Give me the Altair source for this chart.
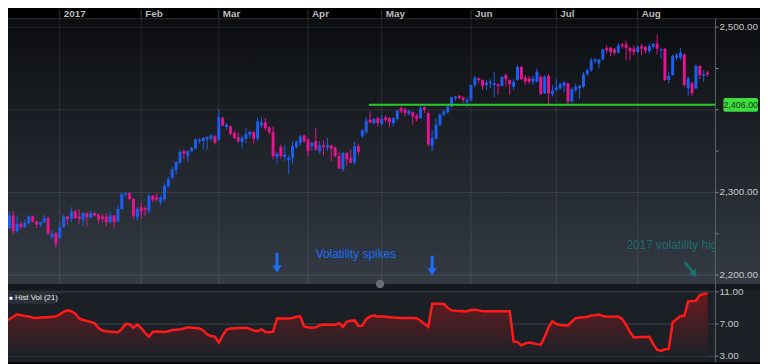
import altair as alt
import pandas as pd

# ---------------- data ----------------
opens = [2259, 2257, 2272, 2253, 2262, 2258, 2263, 2271, 2265, 2261, 2264, 2269, 2246, 2251,
         2245, 2258, 2271, 2268, 2277, 2271, 2267, 2275, 2270, 2275, 2273, 2271, 2271, 2264, 2272, 2265,
         2280, 2297, 2299, 2292, 2270,
         2282, 2281, 2278, 2296, 2294, 2288, 2292, 2307, 2318, 2327, 2336, 2350, 2344, 2350, 2353,
         2362, 2362, 2364, 2365, 2368,
         2364, 2390, 2379, 2380, 2372, 2367, 2361, 2365, 2370, 2373, 2365, 2381, 2385, 2379, 2373,
         2343, 2355, 2343, 2339, 2342, 2355, 2360, 2369,
         2364, 2356, 2362, 2350, 2357, 2354, 2357, 2354, 2344, 2328, 2348, 2342, 2336, 2356, 2368,
         2373, 2388, 2384, 2390,
         2383, 2391, 2390, 2384, 2389, 2402, 2400, 2395, 2397, 2393, 2390, 2403, 2396, 2356, 2365,
         2382, 2394, 2397, 2404, 2414, 2417, 2415, 2409,
         2412, 2430, 2438, 2436, 2430, 2432, 2430, 2431, 2429, 2442, 2436, 2428, 2436, 2452, 2439,
         2438, 2434, 2434, 2440, 2420, 2441, 2419,
         2424, 2426, 2429, 2432, 2410, 2424, 2426, 2428, 2443, 2448, 2459, 2456, 2461, 2475, 2475,
         2473, 2469, 2479, 2479, 2475, 2474,
         2470, 2477, 2476, 2471, 2476, 2480, 2472, 2474, 2436, 2442, 2463, 2463, 2467, 2426, 2432,
         2426, 2453, 2441, 2445]
highs = [2264, 2277, 2277, 2272, 2264, 2267, 2272, 2272, 2266, 2265, 2273, 2271, 2254, 2252,
         2264, 2273, 2272, 2282, 2279, 2280, 2276, 2276, 2278, 2276, 2274, 2274, 2275, 2277, 2273, 2284,
         2300, 2300, 2300, 2293, 2282,
         2289, 2283, 2298, 2297, 2299, 2296, 2311, 2319, 2331, 2338, 2352, 2352, 2351, 2355, 2366,
         2366, 2367, 2368, 2371, 2370,
         2400, 2392, 2384, 2381, 2375, 2373, 2369, 2378, 2375, 2374, 2390, 2391, 2390, 2380, 2380,
         2349, 2358, 2357, 2345, 2362, 2363, 2370, 2370,
         2366, 2361, 2378, 2362, 2363, 2366, 2358, 2356, 2349, 2349, 2349, 2352, 2361, 2359, 2377,
         2391, 2398, 2390, 2392,
         2394, 2393, 2391, 2391, 2400, 2404, 2403, 2400, 2398, 2395, 2405, 2406, 2398, 2375, 2390,
         2396, 2400, 2405, 2416, 2417, 2418, 2416, 2415,
         2431, 2441, 2439, 2437, 2436, 2437, 2446, 2432, 2441, 2444, 2437, 2437, 2454, 2453, 2442,
         2441, 2441, 2450, 2442, 2442, 2443, 2430,
         2437, 2433, 2435, 2433, 2427, 2432, 2430, 2446, 2450, 2463, 2463, 2462, 2474, 2478, 2476,
         2475, 2481, 2481, 2484, 2476, 2478,
         2478, 2480, 2477, 2480, 2481, 2491, 2475, 2475, 2446, 2467, 2469, 2475, 2468, 2440, 2434,
         2455, 2454, 2448, 2447]
lows = [2252, 2256, 2250, 2251, 2256, 2257, 2262, 2263, 2257, 2258, 2263, 2248, 2243, 2233,
        2244, 2257, 2261, 2264, 2268, 2262, 2259, 2258, 2268, 2271, 2262, 2263, 2259, 2262, 2257, 2264,
        2279, 2294, 2290, 2268, 2266,
        2268, 2272, 2275, 2288, 2289, 2285, 2290, 2306, 2316, 2322, 2334, 2340, 2337, 2349, 2352,
        2359, 2352, 2352, 2362, 2358,
        2362, 2380, 2376, 2369, 2364, 2360, 2353, 2360, 2366, 2358, 2362, 2378, 2375, 2370, 2340,
        2335, 2341, 2338, 2322, 2335, 2353, 2357, 2360,
        2344, 2350, 2350, 2347, 2345, 2350, 2338, 2342, 2328, 2325, 2332, 2335, 2334, 2345, 2366,
        2371, 2383, 2382, 2380,
        2381, 2385, 2379, 2380, 2387, 2396, 2392, 2393, 2382, 2386, 2389, 2396, 2356, 2350, 2364,
        2380, 2392, 2395, 2403, 2411, 2413, 2408, 2403,
        2410, 2427, 2432, 2424, 2424, 2426, 2415, 2418, 2428, 2428, 2418, 2424, 2435, 2436, 2430,
        2431, 2430, 2433, 2418, 2419, 2405, 2416,
        2422, 2424, 2421, 2407, 2409, 2421, 2413, 2426, 2441, 2446, 2456, 2450, 2460, 2468, 2465,
        2466, 2468, 2474, 2460, 2460, 2466,
        2468, 2466, 2468, 2468, 2474, 2467, 2462, 2435, 2432, 2441, 2460, 2460, 2428, 2417, 2417,
        2425, 2437, 2434, 2440]
closes = [2257, 2272, 2253, 2262, 2258, 2263, 2271, 2265, 2261, 2264, 2269, 2250, 2250, 2238,
          2258, 2271, 2268, 2277, 2269, 2268, 2275, 2270, 2275, 2272, 2267, 2268, 2264, 2272, 2264, 2280,
          2298, 2299, 2292, 2272, 2280,
          2277, 2279, 2296, 2291, 2291, 2294, 2308, 2316, 2328, 2337, 2349, 2347, 2350, 2354, 2364,
          2364, 2366, 2367, 2369, 2360,
          2391, 2381, 2382, 2371, 2366, 2362, 2366, 2371, 2373, 2365, 2386, 2385, 2378, 2373, 2344,
          2347, 2344, 2346, 2342, 2356, 2361, 2368, 2362,
          2350, 2360, 2352, 2357, 2355, 2357, 2353, 2344, 2329, 2348, 2340, 2336, 2356, 2349, 2375,
          2387, 2385, 2389, 2384,
          2389, 2388, 2385, 2390, 2399, 2398, 2396, 2399, 2392, 2389, 2402, 2400, 2358, 2366, 2382,
          2394, 2398, 2404, 2415, 2416, 2414, 2412, 2412,
          2430, 2439, 2436, 2429, 2433, 2434, 2432, 2429, 2440, 2437, 2431, 2434, 2452, 2437, 2434,
          2434, 2438, 2446, 2419, 2440, 2420, 2423,
          2427, 2431, 2433, 2410, 2425, 2428, 2429, 2443, 2448, 2460, 2461, 2461, 2473, 2472, 2470,
          2469, 2478, 2477, 2475, 2471, 2470,
          2476, 2474, 2472, 2477, 2480, 2474, 2473, 2436, 2441, 2465, 2466, 2469, 2430, 2438, 2420,
          2453, 2442, 2443, 2443]
hist_vol = [7.46, 7.6, 7.9, 8.2, 8.1, 8.0, 7.95, 7.8, 7.75, 7.8, 7.84, 7.84, 7.9, 7.95,
            8.2, 8.5, 8.7, 8.6, 8.3, 7.7, 7.5, 7.39, 7.25, 7.1, 6.5, 6.2, 6.1, 6.05, 6.0, 5.99,
            6.4, 7.02, 6.98, 6.55, 6.95, 6.5, 5.9, 5.42, 6.05, 6.08, 6.05, 6.0, 6.1, 6.25, 6.3, 6.36,
            6.45, 6.6, 6.55, 6.5, 6.45, 6.2, 5.7, 5.5, 5.42, 4.69, 5.6, 6.3, 6.45, 6.47, 6.5, 6.52,
            6.53, 6.4, 6.2, 6.11, 6.36, 6.0, 5.99, 6.05, 7.71, 7.7, 7.7, 7.68, 7.75, 7.9, 7.96, 6.69,
            6.6, 6.55, 6.6, 6.85, 6.94, 6.92, 6.92, 6.9, 7.1, 6.65, 7.31, 7.4, 7.45, 6.77, 6.8, 7.6,
            7.95, 8.05, 7.95, 7.96, 7.9, 7.85, 7.8, 7.78, 7.76, 7.75, 7.75, 7.74, 7.73, 7.4, 7.0, 6.65,
            9.52, 9.52, 9.52, 9.5, 9.0, 8.7, 8.65, 8.62, 8.6, 8.6, 8.75, 8.78, 8.7, 8.6, 8.58, 8.58,
            8.58, 8.58, 8.58, 8.58, 8.58, 4.81, 4.75, 4.35, 4.6, 4.69, 4.6, 4.5, 4.44, 5.4, 6.6, 7.35,
            7.0, 6.88, 6.85, 6.82, 7.3, 7.72, 7.8, 7.84, 7.9, 8.05, 8.1, 8.17, 8.0, 7.92, 7.9, 7.92,
            7.93, 7.6, 6.9, 6.0, 5.34, 5.36, 5.38, 5.4, 5.42, 4.5, 3.8, 3.65, 3.86, 3.9, 7.22, 7.6,
            8.0, 8.0, 9.85, 9.85, 9.9, 10.6, 10.75, 10.79]

month_labels = ["2017", "Feb", "Mar", "Apr", "May", "Jun", "Jul", "Aug"]
month_start_idx = [14, 35, 55, 78, 97, 120, 142, 163]
price_ticks = [2200, 2250, 2300, 2350, 2400, 2450, 2500]
price_grid = [2200, 2300, 2400, 2500]
price_labels = [2200, 2300, 2500]   # the 2,400 label sits under the level tag
vol_ticks = [3, 7, 11]
support_level = 2406
support_start_idx = 93.7
spike_idx = [70, 110]
spike_text = "Volatility spikes"
high_text = "2017 volatility high"
legend_text = "Hist Vol (21)"

# ---------------- layout constants ----------------
W_FULL, H = 760, 356
AX = 715          # plot width = right axis position
FONT = "Liberation Sans"
UP, DOWN = "#1b5ff0", "#e5148f"
GRID = "#ffffff"
LABEL = "#c8c8c8"

candles = pd.DataFrame({"i": list(range(len(closes))), "open": opens, "high": highs,
                        "low": lows, "close": closes})
vol = pd.DataFrame({"i": list(range(len(hist_vol))), "vol": hist_vol})
months = pd.DataFrame({"idx": month_start_idx, "label": month_labels})
one = pd.DataFrame({"k": [0]})

x_scale = alt.Scale(domain=[1.934, 181.76], nice=False, zero=False)
price_scale = alt.Scale(domain=[2200, 2500], range=[268, 17.5], nice=False, zero=False)
vol_scale = alt.Scale(domain=[3, 11], range=[350, 285], nice=False, zero=False)

X = lambda f: alt.X(f, scale=x_scale, axis=None)
PY = lambda f: alt.Y(f, scale=price_scale, axis=None)
VY = lambda f: alt.Y(f, scale=vol_scale, axis=None)

bg_grad = alt.LinearGradient(
    gradient="linear", x1=0, x2=0, y1=0, y2=1,
    stops=[alt.GradientStop(color="#000000", offset=0),
           alt.GradientStop(color="#000000", offset=9 / H),
           alt.GradientStop(color="#0b0d10", offset=9 / H),
           alt.GradientStop(color="#343b45", offset=277 / H),
           alt.GradientStop(color="#16191d", offset=277 / H),
           alt.GradientStop(color="#16191d", offset=283 / H),
           alt.GradientStop(color="#1b2027", offset=283 / H),
           alt.GradientStop(color="#1b2027", offset=1)])
bg = alt.Chart(one).mark_rect(color=bg_grad).encode(
    x=alt.value(0), x2=alt.value(W_FULL), y=alt.value(0), y2=alt.value(H))

strip_line = alt.Chart(one).mark_rule(color="#2c2f34", strokeWidth=1).encode(
    x=alt.value(0), x2=alt.value(W_FULL), y=alt.value(9))
month_sep = alt.Chart(months).mark_rule(color="#3a3a3a", strokeWidth=1).encode(
    x=X("idx:Q"), y=alt.value(0), y2=alt.value(9))
month_grid = alt.Chart(months).mark_rule(color=GRID, opacity=0.1, strokeWidth=1).encode(
    x=X("idx:Q"), y=alt.value(9), y2=alt.value(277))
month_text = alt.Chart(months).mark_text(align="left", baseline="middle", dx=4, fontSize=10,
                                         fontWeight="bold", color="#bdbdbd", font=FONT).encode(
    x=X("idx:Q"), y=alt.value(4.5), text="label:N")

# ---------------- price panel ----------------
pgrid = alt.Chart(pd.DataFrame({"v": price_grid})).mark_rule(color=GRID, opacity=0.1).encode(
    x=alt.value(0), x2=alt.value(AX), y=PY("v:Q"))
pticks = alt.Chart(pd.DataFrame({"v": price_ticks})).mark_rule(color="#8a8e94").encode(
    x=alt.value(AX), x2=alt.value(AX + 3), y=PY("v:Q"))
plabels = alt.Chart(pd.DataFrame({"v": price_labels})).mark_text(
    align="left", baseline="middle", fontSize=10, color=LABEL, font=FONT).encode(
    x=alt.value(AX + 4), y=PY("v:Q"), text=alt.Text("v:Q", format=",.2f"))
color_enc = alt.Color("dir:N", scale=alt.Scale(domain=["up", "down"], range=[UP, DOWN]), legend=None)
cbase = alt.Chart(candles).transform_calculate(
    dir="datum.close >= datum.open ? 'up' : 'down'")
wicks = cbase.mark_rule(strokeWidth=1).encode(
    x=X("i:Q"), y=PY("low:Q"), y2="high:Q", color=color_enc)
bodies = cbase.mark_bar(size=3).encode(
    x=X("i:Q"), y=PY("open:Q"), y2="close:Q", color=color_enc)
sup = pd.DataFrame({"level": [support_level], "start": [support_start_idx]})
sup_line = alt.Chart(sup).mark_rule(color="#26cc26", strokeWidth=2).encode(
    x=X("start:Q"), x2=alt.value(AX), y=PY("level:Q"))
sup_box = alt.Chart(sup).transform_calculate(
    lo="datum.level - 8.4", hi="datum.level + 8.4").mark_rect(
    color="#3fdc3f", cornerRadius=2).encode(
    x=alt.value(723), x2=alt.value(758), y=PY("lo:Q"), y2="hi:Q")
sup_text = alt.Chart(sup).mark_text(fontSize=9, color="#0e3a0e", font=FONT).encode(
    x=alt.value(740.5), y=PY("level:Q"), text=alt.Text("level:Q", format=",.2f"))
price_group = alt.layer(pgrid, pticks, plabels, wicks, bodies, sup_line, sup_box, sup_text)

# ---------------- volatility panel ----------------
vgrid = alt.Chart(pd.DataFrame({"v": vol_ticks})).mark_rule(color=GRID, opacity=0.17).encode(
    x=alt.value(0), x2=alt.value(AX), y=VY("v:Q"))
vticks = alt.Chart(pd.DataFrame({"v": vol_ticks})).mark_rule(color="#8a8e94").encode(
    x=alt.value(AX), x2=alt.value(AX + 3), y=VY("v:Q"))
vlabels = alt.Chart(pd.DataFrame({"v": vol_ticks})).mark_text(
    align="left", baseline="middle", fontSize=10, color=LABEL, font=FONT).encode(
    x=alt.value(AX + 4), y=VY("v:Q"), text=alt.Text("v:Q", format=".2f"))
red_grad = alt.LinearGradient(
    gradient="linear", x1=0, x2=0, y1=0, y2=1,
    stops=[alt.GradientStop(color="#6a1a1e", offset=0),
           alt.GradientStop(color="#1d2128", offset=1)])
varea = alt.Chart(vol).mark_area(color=red_grad).encode(
    x=X("i:Q"), y=VY("vol:Q"), y2=alt.datum(3))
vline = alt.Chart(vol).mark_line(color="#ff1a1a", strokeWidth=2.5).encode(
    x=X("i:Q"), y=VY("vol:Q"))
vol_group = alt.layer(vgrid, vticks, vlabels, varea, vline)

axis_line = alt.Chart(one).mark_rule(color="#5d6168", strokeWidth=1).encode(
    x=alt.value(AX), y=alt.value(9), y2=alt.value(H))

# ---------------- annotations ----------------
arrow_path = "M-0.15,-1L0.15,-1L0.15,0.25L0.47,0.25L0,1L-0.47,0.25L-0.15,0.25Z"
spike_label = alt.Chart(pd.DataFrame({"t": [spike_text]})).mark_text(
    align="left", baseline="middle", fontSize=12, color="#1b6ff5", font=FONT).encode(
    x=alt.value(311), y=alt.value(247), text="t:N")
arr1 = alt.Chart(pd.DataFrame({"i": [spike_idx[0]]})).mark_point(
    shape=arrow_path, filled=True, size=400, color="#1b6ff5", opacity=1, strokeWidth=0).encode(
    x=X("i:Q"), y=alt.value(255.5))
arr2 = alt.Chart(pd.DataFrame({"i": [spike_idx[1]]})).mark_point(
    shape=arrow_path, filled=True, size=400, color="#1b6ff5", opacity=1, strokeWidth=0).encode(
    x=X("i:Q"), y=alt.value(258.5))
high_label = alt.Chart(pd.DataFrame({"t": [high_text]})).mark_text(
    align="left", baseline="middle", fontSize=12, color="#1d6b6b", font=FONT, clip=True).encode(
    x=alt.value(625), y=alt.value(238), text="t:N")
arr3 = alt.Chart(one).mark_point(shape=arrow_path, filled=True, size=361, angle=321,
                                 color="#1d6f6f", opacity=1, strokeWidth=0).encode(
    x=alt.value(690), y=alt.value(262.5))
button = alt.Chart(one).mark_point(shape="circle", filled=True, size=70, color="#6b6f75",
                                   opacity=1, strokeWidth=0).encode(
    x=alt.value(376), y=alt.value(277))

leg_box = alt.Chart(one).mark_rect(color="#2b3038").encode(
    x=alt.value(0), x2=alt.value(47), y=alt.value(286), y2=alt.value(297))
leg_sq = alt.Chart(one).mark_square(size=9, color="#ffffff", opacity=1).encode(
    x=alt.value(3), y=alt.value(291.5))
leg_text = alt.Chart(pd.DataFrame({"t": [legend_text]})).mark_text(
    align="left", baseline="middle", fontSize=8, color="#e6e6e6", font=FONT).encode(
    x=alt.value(7), y=alt.value(291.5), text="t:N")

chart = alt.layer(
    bg, strip_line, month_sep, month_grid, month_text,
    price_group, vol_group, axis_line,
    spike_label, arr1, arr2, high_label, arr3, button,
    leg_box, leg_sq, leg_text,
).resolve_scale(y="independent").properties(
    width=AX, height=H, padding={"left": 0, "top": 0, "right": W_FULL - AX, "bottom": 0},
    autosize=alt.AutoSizeParams(type="none"),
    background="#000000",
).configure_view(strokeWidth=0)

chart.save("out.html", embed_options={"renderer": "svg", "actions": False})
